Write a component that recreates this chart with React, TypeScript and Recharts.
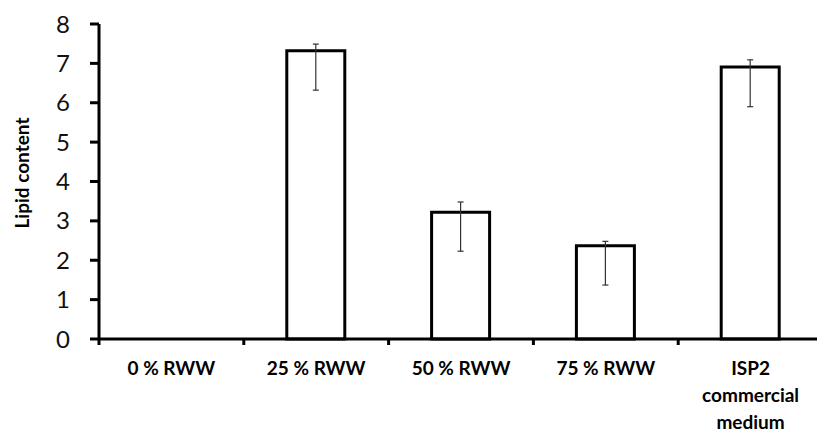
import { BarChart, Bar, XAxis, YAxis, ErrorBar, Label } from "recharts";

const categories = ["0 % RWW", "25 % RWW", "50 % RWW", "75 % RWW", "ISP2 commercial medium"];
const tickLines = [["0 % RWW"], ["25 % RWW"], ["50 % RWW"], ["75 % RWW"], ["ISP2", "commercial", "medium"]];
const values = [0, 7.32, 3.22, 2.37, 6.91];
const errLow = [0, 1.0, 0.99, 1.0, 1.01];
const errHigh = [0, 0.17, 0.26, 0.11, 0.18];
const yTicks = [0, 1, 2, 3, 4, 5, 6, 7, 8];

const FONT = "Lato, 'Open Sans', sans-serif";
const W = 830;
const H = 432;
const M = { top: 24, right: 7, bottom: 0, left: 0 };
const Y_W = 99;
const BAND = (W - M.left - M.right - Y_W) / categories.length;

const data = categories.map((c, i) => ({
  cat: c,
  value: values[i],
  err: values[i] > 0 ? [errLow[i], errHigh[i]] : null,
}));

// x ticks: labels at the centre, tick marks on category boundaries (Excel style)
function XTick(props: any) {
  const { x, y, index } = props;
  const lines = tickLines[index] || [];
  const last = index === categories.length - 1;
  return (
    <g>
      <line x1={x - BAND / 2} x2={x - BAND / 2} y1={y} y2={y + 6} stroke="#000" strokeWidth={3} />
      {last && <line x1={x + BAND / 2} x2={x + BAND / 2} y1={y} y2={y + 6} stroke="#000" strokeWidth={3} />}
      {lines.map((t, i) => (
        <text key={i} x={x} y={y + 36 + i * 27} textAnchor="middle" fontFamily={FONT}
              fontWeight={700} fontSize={19} fill="#000">{t}</text>
      ))}
    </g>
  );
}

export default function App() {
  return (
    <div style={{ position: "absolute", left: 0, top: 0, width: 817, height: 432, overflow: "hidden", background: "#fff" }}>
      <BarChart width={W} height={H} data={data} margin={M}>
        <XAxis dataKey="cat" interval={0} height={93} tick={<XTick />} tickLine={false}
               tickSize={0} tickMargin={0} axisLine={{ stroke: "#000", strokeWidth: 3 }} />
        <YAxis domain={[0, 8]} ticks={yTicks} width={Y_W} interval={0}
               tick={{ fontSize: 24, fill: "#111", fontFamily: FONT }}
               tickSize={9} tickMargin={20}
               tickLine={{ stroke: "#000", strokeWidth: 3 }}
               axisLine={{ stroke: "#000", strokeWidth: 3 }}>
          <Label content={() => (
            <text x={21} y={173} transform="rotate(-90, 21, 173)" textAnchor="middle"
                  dominantBaseline="central" fontFamily={FONT} fontWeight={700}
                  fontSize={19} fill="#000">Lipid content</text>
          )} />
        </YAxis>
        <Bar dataKey="value" fill="#fff" stroke="#000" strokeWidth={3} barSize={58}
             isAnimationActive={false}>
          <ErrorBar dataKey="err" width={3} stroke="#333" strokeWidth={1.2} isAnimationActive={false} />
        </Bar>
      </BarChart>
    </div>
  );
}
